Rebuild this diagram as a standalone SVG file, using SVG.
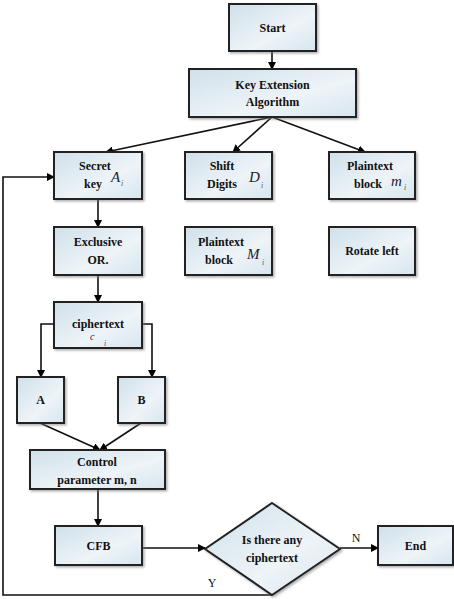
<svg xmlns="http://www.w3.org/2000/svg" width="454" height="599" viewBox="0 0 454 599">
<defs>
<linearGradient id="g" x1="0" y1="0" x2="1" y2="1">
<stop offset="0" stop-color="#cfe0ea"/>
<stop offset="0.6" stop-color="#eef4f8"/>
<stop offset="1" stop-color="#d6e5ee"/>
</linearGradient>
<marker id="ar" markerWidth="8" markerHeight="8" refX="7" refY="4" orient="auto" markerUnits="userSpaceOnUse">
<path d="M0,0 L8,4 L0,8 z" fill="#000"/>
</marker>
<filter id="sh" x="-10%" y="-10%" width="130%" height="130%">
<feDropShadow dx="1.5" dy="1.5" stdDeviation="0.8" flood-color="#777" flood-opacity="0.6"/>
</filter>
</defs>
<style>
.b{fill:url(#g);stroke:#222;stroke-width:2;filter:url(#sh)}
.t{font-family:"Liberation Serif","Times New Roman",serif;font-size:12px;font-weight:bold;fill:#111;text-anchor:middle}
.m{font-family:"Liberation Serif","Times New Roman",serif;font-size:15px;font-style:italic;fill:#223}
.s{font-family:"Liberation Serif","Times New Roman",serif;font-size:8px;font-style:italic;fill:#654}
.c{fill:none;stroke:#111;stroke-width:1.6;marker-end:url(#ar)}
.l{fill:none;stroke:#111;stroke-width:1.6}
</style>
<rect width="454" height="599" fill="#fff"/>
<g id="connectors">
<path class="c" d="M272,52 L272,69"/>
<path class="c" d="M272,117 L106,152"/>
<path class="c" d="M272,117 L233,152"/>
<path class="c" d="M272,117 L365,152"/>
<path class="c" d="M98,199 L98,227"/>
<path class="c" d="M98,275 L98,302"/>
<path class="c" d="M54,324 L41,324 L41,377"/>
<path class="c" d="M142,324 L152,324 L152,377"/>
<path class="c" d="M40,423 L100,450"/>
<path class="c" d="M141,423 L100,450"/>
<path class="c" d="M98,489 L98,526"/>
<path class="c" d="M142,548 L205,548"/>
<path class="c" d="M340,548 L378,548"/>
<path class="c" d="M272,595 L3,595 L3,177 L54,177"/>
</g>
<g id="start"><rect class="b" x="229" y="4" width="87" height="47"/><text class="t" x="272.5" y="32">Start</text></g>
<g id="key-extension"><rect class="b" x="189" y="69" width="167" height="48"/><text class="t" x="272.5" y="89">Key Extension</text><text class="t" x="272.5" y="106">Algorithm</text></g>
<g id="secret-key"><rect class="b" x="54" y="152" width="88" height="47"/><text class="t" x="95" y="170">Secret</text><text class="t" x="93" y="188">key</text><text class="m" x="111" y="182">A</text><text class="s" x="121" y="186">i</text></g>
<g id="shift-digits"><rect class="b" x="185" y="152" width="87" height="47"/><text class="t" x="222" y="170">Shift</text><text class="t" x="222" y="188">Digits</text><text class="m" x="249" y="182">D</text><text class="s" x="261" y="188">i</text></g>
<g id="plaintext-block-m"><rect class="b" x="329" y="152" width="86" height="47"/><text class="t" x="370" y="170">Plaintext</text><text class="t" x="368" y="188">block</text><text class="m" x="391" y="186">m</text><text class="s" x="404" y="190">i</text></g>
<g id="exclusive-or"><rect class="b" x="54" y="227" width="88" height="48"/><text class="t" x="98" y="246">Exclusive</text><text class="t" x="98" y="264">OR.</text></g>
<g id="plaintext-block-M"><rect class="b" x="185" y="227" width="87" height="48"/><text class="t" x="221" y="246">Plaintext</text><text class="t" x="219" y="264">block</text><text class="m" x="247" y="259">M</text><text class="s" x="262" y="265">i</text></g>
<g id="rotate-left"><rect class="b" x="329" y="227" width="86" height="48"/><text class="t" x="372" y="255">Rotate left</text></g>
<g id="ciphertext"><rect class="b" x="54" y="302" width="88" height="46"/><text class="t" x="98" y="328">ciphertext</text><text class="m" x="90" y="340" style="font-size:10px">c</text><text class="s" x="104" y="346">i</text></g>
<g id="a"><rect class="b" x="17" y="377" width="47" height="46"/><text class="t" x="40.5" y="404">A</text></g>
<g id="b"><rect class="b" x="118" y="377" width="47" height="46"/><text class="t" x="141.5" y="404">B</text></g>
<g id="control"><rect class="b" x="30" y="450" width="135" height="39"/><text class="t" x="97" y="466">Control</text><text class="t" x="97" y="484">parameter m, n</text></g>
<g id="cfb"><rect class="b" x="55" y="526" width="87" height="39"/><text class="t" x="98.5" y="550">CFB</text></g>
<g id="decision"><path class="b" d="M272,503 L340,549 L272,595 L205,549 Z"/><text class="t" x="272" y="544">Is there any</text><text class="t" x="272" y="562">ciphertext</text></g>
<g id="end"><rect class="b" x="378" y="526" width="75" height="39"/><text class="t" x="415.5" y="550">End</text></g>
<g id="labels"><text class="t" x="356" y="542" style="font-weight:normal">N</text><text class="t" x="212" y="587" style="font-weight:normal">Y</text></g>
</svg>
